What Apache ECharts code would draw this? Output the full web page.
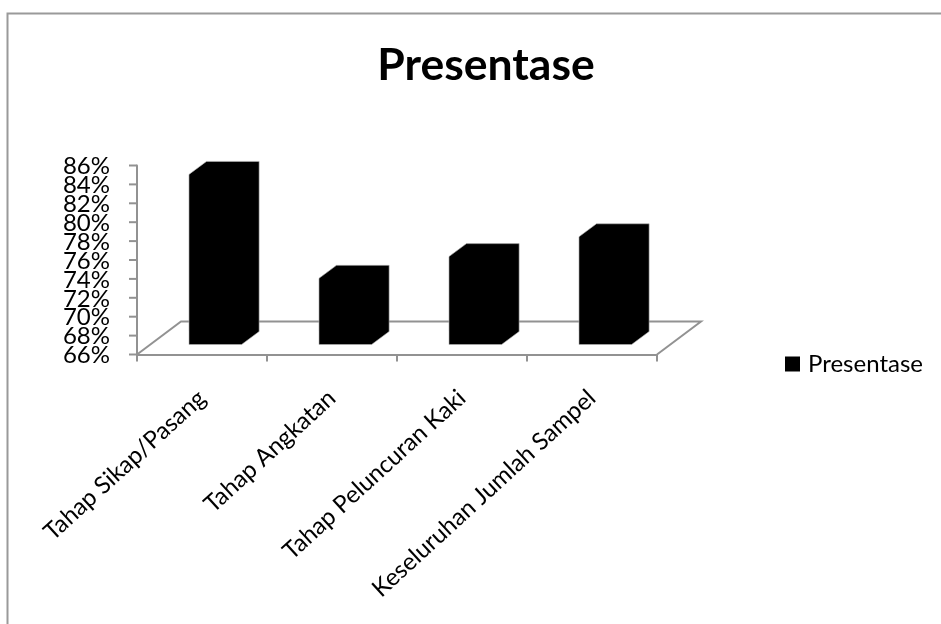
<!DOCTYPE html>
<html>
<head>
<meta charset="utf-8">
<style>html,body{margin:0;padding:0;background:#fff}#chart{width:941px;height:624px}</style>
<script src="https://cdn.jsdelivr.net/npm/echarts@6/dist/echarts.min.js"></script>
</head>
<body>
<div id="chart"></div>
<script>
const categories = ['Tahap Sikap/Pasang', 'Tahap Angkatan', 'Tahap Peluncuran Kaki', 'Keseluruhan Jumlah Sampel'];
const seriesName = 'Presentase';
const values = [84, 73, 75.3, 77.4];
const axisMin = 66;
const axisMax = 86;
const axisStep = 2;
const yTickValues = [66, 68, 70, 72, 74, 76, 78, 80, 82, 84, 86];

const FONT = 'Lato';
const AXIS_GRAY = '#929292';
// Oblique projection of the depth axis, in pixels
const FLOOR_DX = 44, FLOOR_DY = -33;
const BAR_NEAR_DX = 13.3, BAR_NEAR_DY = -10;
const BAR_DEPTH_DX = 17.5, BAR_DEPTH_DY = -13;

const chart = echarts.init(document.getElementById('chart'), null, { renderer: 'canvas' });

function renderFloor(params, api) {
  const g = params.coordSys;
  const x0 = g.x, x1 = g.x + g.width, y = g.y + g.height;
  return {
    type: 'polyline',
    silent: true,
    shape: { points: [[x0, y], [x0 + FLOOR_DX, y + FLOOR_DY], [x1 + FLOOR_DX, y + FLOOR_DY], [x1, y]] },
    style: { fill: null, stroke: AXIS_GRAY, lineWidth: 2 }
  };
}

// The percentage labels sit closer together than the axis would allow, so
// each tick and its label are drawn here from the axis scale.
function renderYTick(params, api) {
  const g = params.coordSys;
  const v = api.value(1);
  const y = api.coord([0, v])[1];
  return {
    type: 'group',
    silent: true,
    children: [
      {
        type: 'line',
        shape: { x1: g.x - 8, y1: y, x2: g.x, y2: y },
        style: { stroke: AXIS_GRAY, lineWidth: 2 }
      },
      {
        type: 'text',
        style: {
          text: v + '%', x: g.x - 27, y: y + 1,
          align: 'right', verticalAlign: 'middle',
          fontFamily: FONT, fontSize: 24, fill: '#000'
        }
      }
    ]
  };
}

function renderBar(params, api) {
  const idx = api.value(0);
  const top = api.coord([idx, api.value(1)]);
  const base = api.coord([idx, axisMin]);
  const w = api.size([1, 0])[0] * 0.405;
  const xl = top[0] - w / 2 + BAR_NEAR_DX, xr = xl + w;
  const yt = top[1] + BAR_NEAR_DY, yb = base[1] + BAR_NEAR_DY;
  const dx = BAR_DEPTH_DX, dy = BAR_DEPTH_DY;
  return {
    type: 'polygon',
    shape: { points: [[xl, yb], [xl, yt], [xl + dx, yt + dy], [xr + dx, yt + dy], [xr + dx, yb + dy], [xr, yb]] },
    style: { fill: '#000', stroke: '#b5b5b5', lineWidth: 0.6 }
  };
}

chart.setOption({
  animation: false,
  backgroundColor: '#fff',
  title: {
    text: seriesName,
    left: 481, top: 38, textAlign: 'center',
    textStyle: { fontFamily: FONT, fontWeight: 'bold', fontSize: 44.5, color: '#000' }
  },
  legend: {
    left: 785, top: 352,
    padding: 0,
    itemWidth: 15, itemHeight: 15, itemGap: 8,
    icon: 'rect',
    data: [{ name: seriesName, itemStyle: { color: '#000' } }],
    textStyle: { fontFamily: FONT, fontSize: 24, color: '#000', padding: [0, 0, 0, 3] }
  },
  grid: { left: 137, top: 165.5, width: 520, height: 189 },
  xAxis: {
    type: 'category',
    data: categories,
    boundaryGap: true,
    axisLine: { lineStyle: { color: AXIS_GRAY, width: 2 } },
    axisTick: { show: true, alignWithLabel: false, length: 7, lineStyle: { color: AXIS_GRAY, width: 2 } },
    axisLabel: { rotate: 42.5, interval: 0, margin: 40, fontFamily: FONT, fontSize: 24, color: '#000' }
  },
  yAxis: {
    type: 'value',
    min: axisMin, max: axisMax, interval: axisStep,
    splitLine: { show: false },
    axisLine: { show: true, lineStyle: { color: AXIS_GRAY, width: 2 } },
    axisTick: { show: false },
    axisLabel: { show: false }
  },
  graphic: [{
    type: 'polyline', silent: true,
    shape: { points: [[7.5, 624], [7.5, 13.5], [941, 13.5]] },
    style: { fill: null, stroke: '#9a9a9a', lineWidth: 2 }
  }],
  series: [
    {
      type: 'custom', name: 'floor', silent: true, z: 1, legendHoverLink: false,
      coordinateSystem: 'cartesian2d',
      renderItem: renderFloor,
      data: [[0, axisMin]]
    },
    {
      type: 'custom', name: 'yTicks', silent: true, z: 1, legendHoverLink: false,
      coordinateSystem: 'cartesian2d',
      renderItem: renderYTick,
      encode: { x: 0, y: 1 },
      data: yTickValues.map(v => [0, v])
    },
    {
      type: 'custom', name: seriesName, z: 2,
      coordinateSystem: 'cartesian2d',
      renderItem: renderBar,
      encode: { x: 0, y: 1 },
      itemStyle: { color: '#000' },
      data: values.map((v, i) => [i, v])
    }
  ]
});
</script>
</body>
</html>
